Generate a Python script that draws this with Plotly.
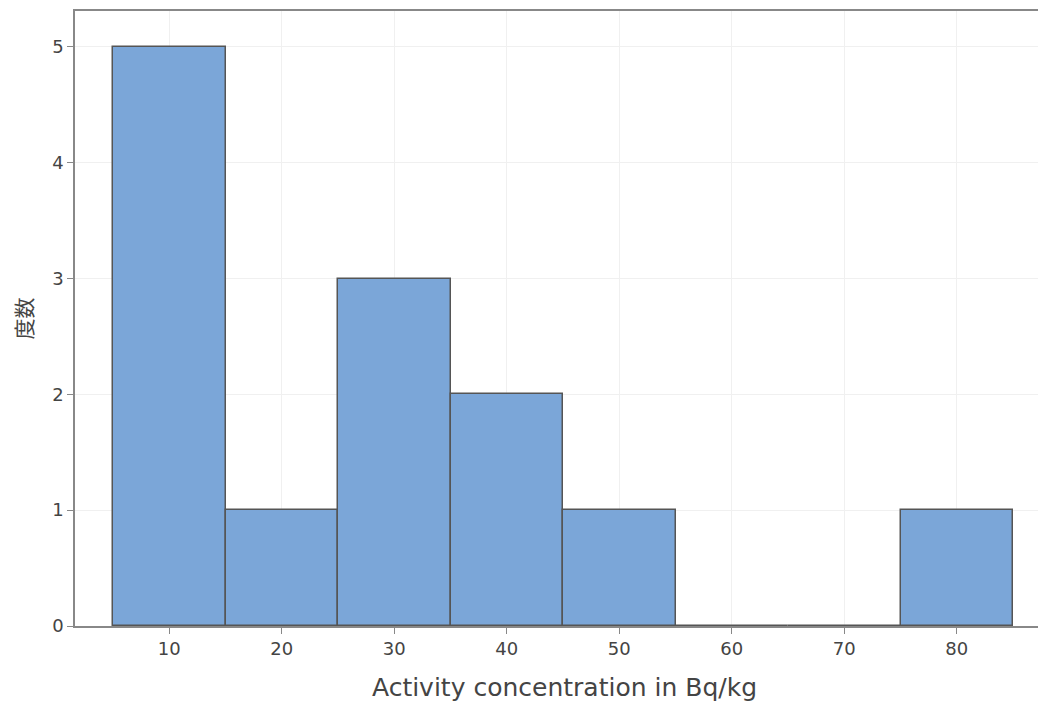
import plotly.graph_objects as go

bin_centers = [10, 20, 30, 40, 50, 60, 70, 80]
counts = [5, 1, 3, 2, 1, 0, 0, 1]
bin_width = 10
x_title = "Activity concentration in Bq/kg"
y_title = "度数"
x_ticks = [10, 20, 30, 40, 50, 60, 70, 80]
y_ticks = [0, 1, 2, 3, 4, 5]

fig = go.Figure(
    go.Bar(
        x=bin_centers,
        y=counts,
        width=[bin_width] * len(bin_centers),
        marker=dict(color="#7BA6D8", line=dict(color="#555555", width=1.5)),
    )
)

font_family = "DejaVu Sans, Verdana, sans-serif"
fig.update_layout(
    width=1046,
    height=694,
    margin=dict(l=67, r=0, t=3, b=76),
    plot_bgcolor="white",
    paper_bgcolor="white",
    font=dict(family=font_family, color="#444444"),
    showlegend=False,
    bargap=0,
)
fig.update_xaxes(
    range=[1.62, 88.64],
    tickvals=x_ticks,
    ticks="outside",
    ticklen=6,
    tickcolor="#888888",
    tickfont=dict(size=18, color="#444444"),
    showline=True,
    linecolor="#888888",
    linewidth=1.5,
    mirror=True,
    showgrid=True,
    gridcolor="#f0f0f0",
    zeroline=False,
    title=dict(text=x_title, font=dict(size=25, color="#444444"), standoff=25),
)
fig.update_yaxes(
    range=[0, 5.31],
    tickvals=y_ticks,
    ticks="outside",
    ticklen=6,
    tickcolor="#888888",
    tickfont=dict(size=18, color="#444444"),
    showline=True,
    linecolor="#888888",
    linewidth=1.5,
    mirror=False,
    showgrid=True,
    gridcolor="#f0f0f0",
    zeroline=False,
    title=dict(text=y_title, font=dict(family="Noto Sans CJK JP", size=21, color="#444444"), standoff=18),
)

fig.write_html("out.html")
